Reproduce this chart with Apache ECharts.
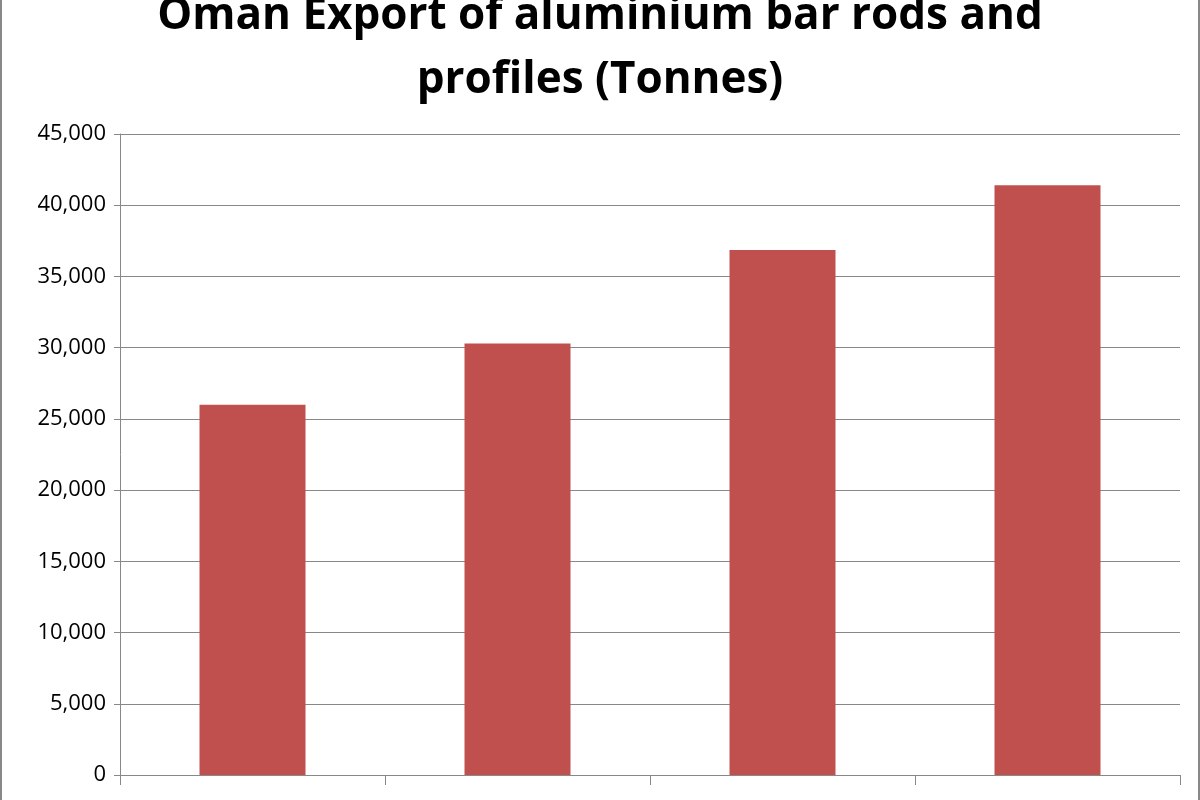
<!DOCTYPE html>
<html><head><meta charset="utf-8">
<script src="https://cdn.jsdelivr.net/npm/echarts@6/dist/echarts.min.js"></script>
<style>html,body{margin:0;padding:0;background:#fff}#c{width:1200px;height:800px;box-sizing:border-box;border-left:2px solid #888;border-right:2px solid #888}</style>
</head><body><div id="c"></div>
<script>
const categories = ['1', '2', '3', '4'];
const exportsTonnes = [26000, 30300, 36850, 41400];
const yTicks = [0, 5000, 10000, 15000, 20000, 25000, 30000, 35000, 40000, 45000];

const chart = echarts.init(document.getElementById('c'));
chart.setOption({
  animation: false,
  title: {
    text: 'Oman Export of aluminium bar rods and\nprofiles (Tonnes)',
    left: 'center', top: -21,
    textStyle: { fontFamily: 'Open Sans', fontWeight: 'bold', fontSize: 44, lineHeight: 64, color: '#000' }
  },
  grid: { left: 118, right: 18, top: 134, bottom: 25 },
  xAxis: {
    type: 'category', data: categories,
    axisLine: { lineStyle: { color: '#888' } },
    axisTick: { show: true, length: 10, lineStyle: { color: '#888' } },
    axisLabel: { show: false }
  },
  yAxis: {
    type: 'value', min: yTicks[0], max: yTicks[yTicks.length - 1], interval: 5000,
    axisLine: { show: true, lineStyle: { color: '#888' } },
    axisTick: { show: true, length: 6, lineStyle: { color: '#888' } },
    axisLabel: { fontFamily: 'Open Sans', fontSize: 22, color: '#000', margin: 14 },
    splitLine: { lineStyle: { color: '#888' } }
  },
  series: [{
    type: 'bar', data: exportsTonnes, barWidth: '40%',
    itemStyle: { color: '#c0504d' }
  }]
});
</script></body></html>
